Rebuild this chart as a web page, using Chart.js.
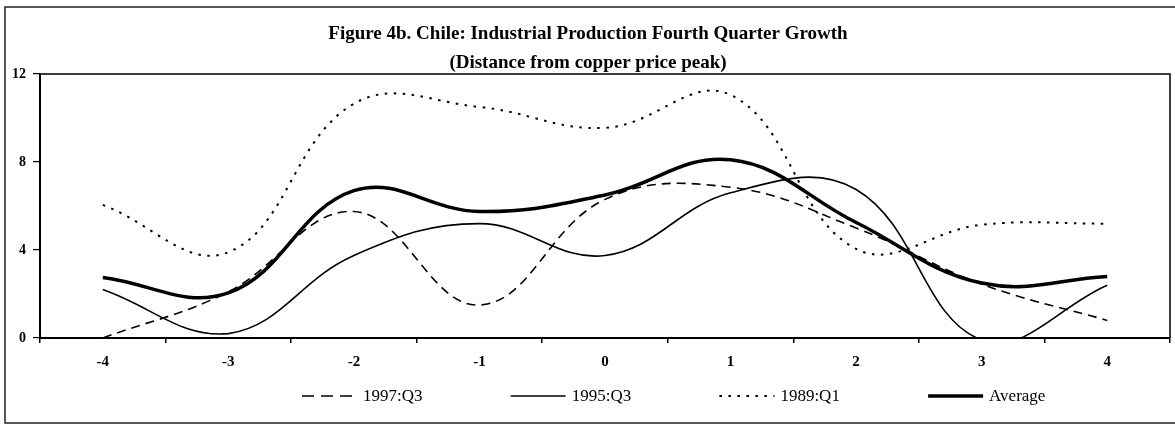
<!DOCTYPE html>
<html>
<head>
<meta charset="utf-8">
<title>Figure 4b. Chile</title>
<script src="https://cdn.jsdelivr.net/npm/chart.js@4.4.1/dist/chart.umd.min.js"></script>
<style>
    html, body { margin: 0; padding: 0; background: #fff; }
    #wrap { width: 1175px; height: 425px; position: relative; }
</style>
</head>
<body>
<div id="wrap"><canvas id="growthChart"></canvas></div>
<script>
// ================= DATA =================
const quarters = ["-4", "-3", "-2", "-1", "0", "1", "2", "3", "4"];
const yTicks = [0, 4, 8, 12];

const q1997 = [0.0, 2.1, 5.75, 1.5, 6.3, 6.85, 5.0, 2.45, 0.8];
const q1995 = [2.2, 0.2, 3.75, 5.2, 3.75, 6.6, 6.75, -0.1, 2.4];
const q1989 = [6.05, 3.9, 10.65, 10.5, 9.55, 11.05, 4.05, 5.15, 5.2];
const average = [2.75, 2.05, 6.7, 5.75, 6.5, 8.1, 5.25, 2.5, 2.8];

const titleLines = [
    "Figure 4b. Chile: Industrial Production Fourth Quarter Growth",
    "(Distance from copper price peak)"
];

const SERIF = "'Liberation Serif', 'Times New Roman', serif";

// ================= PLUGINS =================
// outer frame, title and the box round the plot
const framePlugin = {
    id: "frame",
    beforeDraw(chart) {
        const ctx = chart.ctx;
        ctx.save();
        ctx.fillStyle = "#fff";
        ctx.fillRect(0, 0, chart.width, chart.height);
        ctx.restore();
    },
    afterDraw(chart) {
        const ctx = chart.ctx;
        const a = chart.chartArea;
        ctx.save();

        // outer border (right side is cut off in the scan)
        ctx.strokeStyle = "#222";
        ctx.lineWidth = 1.5;
        ctx.beginPath();
        ctx.moveTo(chart.width, 7);
        ctx.lineTo(5, 7);
        ctx.lineTo(5, 423);
        ctx.lineTo(chart.width, 423);
        ctx.stroke();

        // top + right of plot box
        ctx.strokeStyle = "#000";
        ctx.lineWidth = 1.5;
        ctx.beginPath();
        ctx.moveTo(a.left, a.top);
        ctx.lineTo(a.right, a.top);
        ctx.lineTo(a.right, a.bottom);
        ctx.stroke();

        // title
        ctx.fillStyle = "#000";
        ctx.font = "bold 19px " + SERIF;
        ctx.textAlign = "center";
        ctx.textBaseline = "middle";
        ctx.fillText(titleLines[0], 588, 34);
        ctx.fillText(titleLines[1], 588, 63);

        ctx.restore();
    }
};

// legend laid out like the original, one slot per series
const legendPlugin = {
    id: "sampleLegend",
    afterDraw(chart) {
        const ctx = chart.ctx;
        ctx.save();
        ctx.font = "17px " + SERIF;
        ctx.textBaseline = "middle";
        ctx.fillStyle = "#000";
        const y = 396;
        chart.data.datasets.forEach((ds, i) => {
            const x0 = 302 + 208.7 * i;
            const len = 55;
            ctx.strokeStyle = "#000";
            ctx.lineWidth = ds.borderWidth;
            ctx.setLineDash(ds.legendDash || ds.borderDash || []);
            ctx.beginPath();
            ctx.moveTo(x0, y);
            ctx.lineTo(x0 + len, y);
            ctx.stroke();
            ctx.setLineDash([]);
            ctx.fillText(ds.label, x0 + len + 6, y + 1);
        });
        ctx.restore();
    }
};

// ================= CHART =================
const ctx = document.getElementById("growthChart");

new Chart(ctx, {
    type: "line",
    data: {
        labels: quarters,
        datasets: [
            {
                label: "1997:Q3",
                data: q1997,
                borderColor: "#000",
                borderWidth: 1.6,
                borderDash: [9, 6],
                legendDash: [12, 7],
                tension: 0.4,
                pointRadius: 0,
                fill: false
            },
            {
                label: "1995:Q3",
                data: q1995,
                borderColor: "#000",
                borderWidth: 1.6,
                tension: 0.4,
                pointRadius: 0,
                fill: false
            },
            {
                label: "1989:Q1",
                data: q1989,
                borderColor: "#000",
                borderWidth: 2,
                borderDash: [2.5, 6.5],
                tension: 0.4,
                pointRadius: 0,
                fill: false
            },
            {
                label: "Average",
                data: average,
                borderColor: "#000",
                borderWidth: 3.5,
                tension: 0.4,
                pointRadius: 0,
                fill: false
            }
        ]
    },
    options: {
        responsive: true,
        maintainAspectRatio: false,
        animation: false,
        layout: {
            padding: { left: 0, right: 5, top: 74, bottom: 0 }
        },
        plugins: {
            legend: { display: false },
            title: { display: false },
            tooltip: { enabled: false }
        },
        scales: {
            x: {
                type: "category",
                offset: true,
                afterFit(scale) { scale.height = 87; },
                grid: {
                    display: true,
                    offset: true,
                    drawOnChartArea: false,
                    drawTicks: true,
                    tickLength: 5,
                    color: "#000",
                    lineWidth: 1.5
                },
                border: { display: true, color: "#000", width: 2 },
                ticks: {
                    color: "#000",
                    padding: 10,
                    maxRotation: 0,
                    font: { family: SERIF, size: 15, weight: "bold" }
                }
            },
            y: {
                min: 0,
                max: 12,
                afterFit(scale) { scale.width = 40; },
                afterBuildTicks(scale) {
                    scale.ticks = yTicks.map(v => ({ value: v }));
                },
                grid: {
                    display: true,
                    drawOnChartArea: false,
                    drawTicks: true,
                    tickLength: 7,
                    color: "#000",
                    lineWidth: 1.2
                },
                border: { display: true, color: "#000", width: 2 },
                ticks: {
                    color: "#000",
                    padding: 7,
                    font: { family: SERIF, size: 14, weight: "bold" }
                }
            }
        }
    },
    plugins: [framePlugin, legendPlugin]
});
</script>
</body>
</html>
